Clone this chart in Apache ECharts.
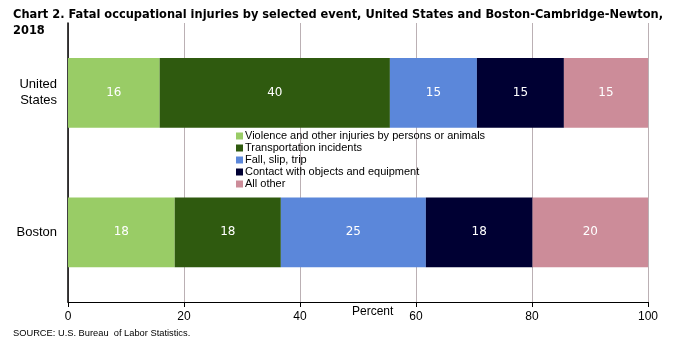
<!DOCTYPE html>
<html>
<head>
<meta charset="utf-8">
<script src="https://cdn.jsdelivr.net/npm/echarts@6/dist/echarts.min.js"></script>
<style>
  html, body { margin: 0; padding: 0; background: #fff; }
  #main { width: 687px; height: 353px; }
</style>
</head>
<body>
<div id="main"></div>
<script>
// areas, top to bottom
var places = ['United\nStates', 'Boston'];
var xTicks = [0, 20, 40, 60, 80, 100];

// percent of fatal injuries by event
var violence = [15.8, 18.4];
var transport = [39.7, 18.3];
var fallSlip = [15.0, 25.0];
var contact = [15.0, 18.4];
var allOther = [14.5, 19.9];

var eventNames = [
  'Violence and other injuries by persons or animals',
  'Transportation incidents',
  'Fall, slip, trip',
  'Contact with objects and equipment',
  'All other'
];
var colors = ['#99cc66', '#2f5a0f', '#5b87da', '#000033', '#cc8c99'];

var chart = echarts.init(document.getElementById('main'));

function mkSeries(name, data, color) {
  return {
    name: name,
    type: 'bar',
    stack: 'all',
    barWidth: '50%',
    data: data,
    itemStyle: { color: color },
    label: {
      show: true,
      position: 'inside',
      color: '#fff',
      fontFamily: 'DejaVu Sans',
      fontSize: 12,
      formatter: function (p) { return Math.round(p.value); }
    }
  };
}

var option = {
  animation: false,
  backgroundColor: '#fff',
  title: {
    text: 'Chart 2. Fatal occupational injuries by selected event, United States and Boston-Cambridge-Newton,\n2018',
    left: 8,
    top: 2,
    textStyle: {
      fontFamily: 'DejaVu Sans Condensed',
      fontWeight: 'bold',
      fontSize: 12.7,
      lineHeight: 16,
      color: '#000'
    }
  },
  legend: {
    orient: 'vertical',
    left: 231,
    top: 125,
    icon: 'rect',
    itemWidth: 7,
    itemHeight: 7,
    itemGap: 0,
    data: eventNames,
    textStyle: {
      fontFamily: 'Liberation Sans',
      fontSize: 11,
      lineHeight: 12,
      color: '#000',
      padding: [0, 0, 0, -3]
    }
  },
  grid: { left: 68, right: 39, top: 23, bottom: 51 },
  xAxis: {
    type: 'value',
    min: 0,
    max: 100,
    interval: 20,
    axisLine: { show: true, lineStyle: { color: '#000', width: 1 } },
    axisTick: { show: true, length: 5, lineStyle: { color: '#000' } },
    axisLabel: {
      fontFamily: 'Liberation Sans',
      fontSize: 12,
      color: '#000',
      margin: 9,
      formatter: function (v) { return xTicks.indexOf(v) >= 0 ? v : ''; }
    },
    splitLine: { show: true, lineStyle: { color: '#bbb0b4', width: 1 } }
  },
  yAxis: {
    type: 'category',
    inverse: true,
    data: places,
    axisLine: { show: true, lineStyle: { color: '#000', width: 1.5 } },
    axisTick: { show: false },
    axisLabel: {
      fontFamily: 'Liberation Sans',
      fontSize: 13,
      lineHeight: 16,
      color: '#000',
      margin: 11,
      align: 'right'
    },
    splitLine: { show: false }
  },
  graphic: [{
    type: 'text',
    left: 352,
    top: 306,
    style: {
      text: 'Percent',
      fontFamily: 'Liberation Sans',
      fontSize: 12,
      fill: '#000'
    }
  }, {
    type: 'text',
    left: 13,
    top: 329,
    style: {
      text: 'SOURCE: U.S. Bureau  of Labor Statistics.',
      fontFamily: 'Liberation Sans',
      fontSize: 9.3,
      fill: '#000'
    }
  }],
  series: [
    mkSeries(eventNames[0], violence, colors[0]),
    mkSeries(eventNames[1], transport, colors[1]),
    mkSeries(eventNames[2], fallSlip, colors[2]),
    mkSeries(eventNames[3], contact, colors[3]),
    mkSeries(eventNames[4], allOther, colors[4])
  ]
};

chart.setOption(option);
</script>
</body>
</html>
